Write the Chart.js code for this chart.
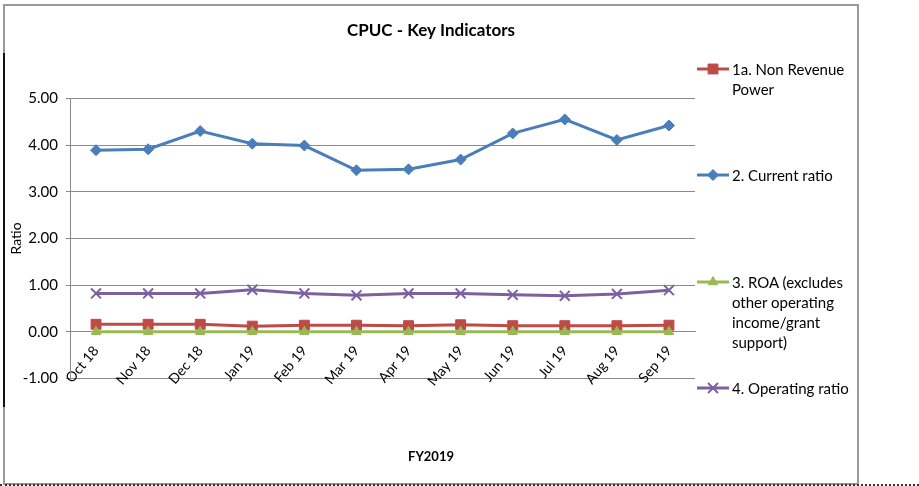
<!DOCTYPE html>
<html>
<head>
<meta charset="utf-8">
<script src="https://cdn.jsdelivr.net/npm/chart.js@4.4.1/dist/chart.umd.min.js"></script>
<style>
  body { margin: 0; background: #fff; }
  #wrap { position: relative; width: 919px; height: 486px; overflow: hidden; }
  #frame { position: absolute; left: 3px; top: 4px; width: 852px; height: 477px; border: 2px solid #9a9a9a; }
  #edge { position: absolute; left: 3px; top: 53px; width: 2px; height: 354px; background: #111; }
  #dots { position: absolute; left: 0; top: 484px; width: 919px; border-top: 2px dotted #333; }
  #cpucChart { position: absolute; left: 0; top: 0; }
  .lg { position: absolute; left: 695px; font: 15px Lato, sans-serif; color: #000; line-height: 20px; }
  .lg canvas { position: absolute; left: 0; top: 0; }
  .lg div { margin-left: 37px; white-space: nowrap; }
</style>
</head>
<body>
<div id="wrap">
  <div id="frame"></div>
  <div id="edge"></div>
  <div id="dots"></div>
  <canvas id="cpucChart" width="919" height="486"></canvas>
</div>
<script>
// CPUC - Key Indicators, FY2019
const months = ['Oct 18', 'Nov 18', 'Dec 18', 'Jan 19', 'Feb 19', 'Mar 19', 'Apr 19', 'May 19', 'Jun 19', 'Jul 19', 'Aug 19', 'Sep 19'];
const nonRevenuePower = [0.16, 0.16, 0.16, 0.12, 0.14, 0.14, 0.13, 0.15, 0.13, 0.13, 0.13, 0.14];
const currentRatio = [3.89, 3.91, 4.30, 4.03, 3.99, 3.46, 3.48, 3.69, 4.25, 4.55, 4.11, 4.42];
const roa = [0.00, 0.00, 0.00, 0.00, 0.00, 0.00, 0.00, 0.00, 0.00, 0.00, 0.00, 0.00];
const operatingRatio = [0.82, 0.82, 0.82, 0.90, 0.82, 0.78, 0.82, 0.82, 0.79, 0.77, 0.81, 0.89];
const yTicks = [-1, 0, 1, 2, 3, 4, 5];

const seriesNames = ['1a. Non Revenue Power', '2. Current ratio', '3. ROA (excludes other operating income/grant support)', '4. Operating ratio'];
const legendLines = [
    ['1a. Non Revenue', 'Power'],
    ['2. Current ratio'],
    ['3. ROA (excludes', 'other operating', 'income/grant', 'support)'],
    ['4. Operating ratio']
];

const fontFamily = 'Lato, "Open Sans", sans-serif';
const gridGray = '#8a8a8a';

function series(label, data, color, style, radius, order) {
    return {
        label: label,
        data: data,
        borderColor: color,
        backgroundColor: color,
        borderWidth: 3,
        pointStyle: style,
        pointRadius: radius,
        pointHoverRadius: radius,
        pointBackgroundColor: color,
        pointBorderColor: color,
        pointBorderWidth: style === 'crossRot' ? 2 : 1,
        tension: 0,
        fill: false,
        order: order
    };
}

const datasets = [
    series(seriesNames[0], nonRevenuePower, '#BE4B48', 'rect', 7, 3),
    series(seriesNames[1], currentRatio, '#4A7EBB', 'rectRot', 5.5, 2),
    series(seriesNames[2], roa, '#98B954', 'triangle', 5.5, 1),
    series(seriesNames[3], operatingRatio, '#7D60A0', 'crossRot', 7, 0)
];

const ctx = document.getElementById('cpucChart').getContext('2d');
const cpucChart = new Chart(ctx, {
    type: 'line',
    data: { labels: months, datasets: datasets },
    options: {
        responsive: false,
        animation: false,
        layout: { padding: { left: 6, right: 63, top: 0, bottom: 0 } },
        plugins: {
            legend: { display: false },
            tooltip: { enabled: false },
            title: {
                display: true,
                text: 'CPUC - Key Indicators',
                color: '#000',
                font: { family: fontFamily, size: 17, weight: 'bold' },
                padding: { top: 20, bottom: 58 }
            },
            subtitle: {
                display: true,
                position: 'bottom',
                text: 'FY2019',
                color: '#000',
                font: { family: fontFamily, size: 13, weight: 'bold' },
                padding: { top: 71, bottom: 21 }
            }
        },
        scales: {
            x: {
                position: { y: 0 },
                offset: true,
                grid: { display: false },
                border: { display: true, color: gridGray },
                ticks: {
                    autoSkip: false,
                    minRotation: 50,
                    maxRotation: 50,
                    padding: 3,
                    color: '#000',
                    font: { family: fontFamily, size: 14 }
                }
            },
            y: {
                min: yTicks[0],
                max: yTicks[yTicks.length - 1],
                afterBuildTicks: s => { s.ticks = yTicks.map(v => ({ value: v })); },
                afterFit: s => { s.width = 64; },
                grid: { color: gridGray, tickLength: 4 },
                border: { color: gridGray },
                ticks: {
                    padding: 8,
                    color: '#000',
                    font: { family: fontFamily, size: 15 },
                    callback: v => Number(v).toFixed(2)
                },
                title: {
                    display: true,
                    text: 'Ratio',
                    color: '#000',
                    font: { family: fontFamily, size: 14 },
                    padding: { top: 2, bottom: 0 }
                }
            },
            // empty strip that keeps room for the legend on the right
            legendRoom: {
                axis: 'y',
                position: 'right',
                display: true,
                grid: { display: false },
                border: { display: false },
                ticks: { display: false },
                afterFit: s => { s.width = 161; }
            }
        }
    }
});

// Legend to the right of the plot, one entry per series
const legendCenters = [69, 175, 282, 388];
const drawPoint = Chart.helpers && Chart.helpers.drawPoint;
datasets.forEach((ds, i) => {
    const item = document.createElement('div');
    item.className = 'lg';
    item.style.top = (legendCenters[i] - 10) + 'px';
    const c = document.createElement('canvas');
    c.width = 36;
    c.height = 20;
    item.appendChild(c);
    legendLines[i].forEach(t => {
        const line = document.createElement('div');
        line.textContent = t;
        item.appendChild(line);
    });
    document.getElementById('wrap').appendChild(item);
    const g = c.getContext('2d');
    g.strokeStyle = ds.borderColor;
    g.fillStyle = ds.borderColor;
    g.lineWidth = 3;
    g.beginPath();
    g.moveTo(2, 10);
    g.lineTo(34, 10);
    g.stroke();
    g.lineWidth = ds.pointBorderWidth;
    if (drawPoint) {
        drawPoint(g, { pointStyle: ds.pointStyle, radius: ds.pointRadius, rotation: 0, borderWidth: ds.pointBorderWidth }, 18, 10);
    }
});
</script>
</body>
</html>
